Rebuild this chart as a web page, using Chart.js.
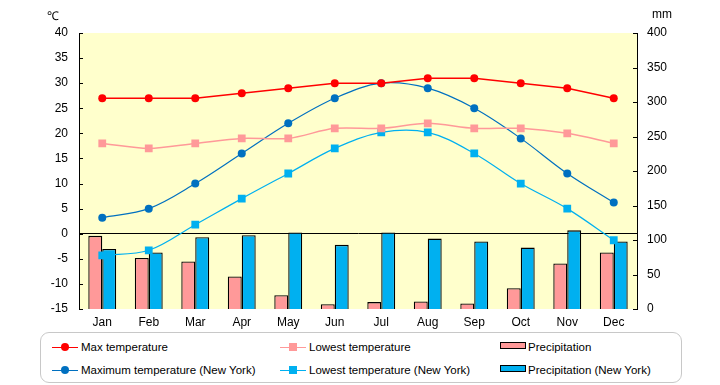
<!DOCTYPE html>
<html>
<head>
<meta charset="utf-8">
<script src="https://cdn.jsdelivr.net/npm/chart.js@4.4.1/dist/chart.umd.min.js"></script>
<style>
  html, body { margin: 0; padding: 0; background: #ffffff; }
  #wrap { position: relative; width: 720px; height: 385px; font-family: "Liberation Sans", Arial, sans-serif; }
  #c { position: absolute; left: 0; top: 0; }
  .unit { position: absolute; font-size: 12px; color: #000; }
  #legend { position: absolute; left: 40px; top: 332px; width: 640px; height: 49px;
            border: 1.5px solid #c8c8c8; border-radius: 9px; background: #fff; }
  .li { position: absolute; font-size: 11.5px; color: #000; white-space: nowrap; }
  .mk { position: absolute; }
</style>
</head>
<body>
<div id="wrap">
  <canvas id="c" width="720" height="385"></canvas>
  <div class="unit" style="left:47px; top:7px;">℃</div>
  <div class="unit" style="left:652px; top:7px;">mm</div>
  <div id="legend"></div>
</div>
<script>
// ---- data ----
const months = ["Jan","Feb","Mar","Apr","May","Jun","Jul","Aug","Sep","Oct","Nov","Dec"];
const maxTemp = [27, 27, 27, 28, 29, 30, 30, 31, 31, 30, 29, 27];
const lowTemp = [18, 17, 18, 19, 19, 21, 21, 22, 21, 21, 20, 18];
const nyMaxTemp = [3.2, 5, 10, 16, 22, 27, 30, 29, 25, 19, 12, 6.2];
const nyLowTemp = [-4.3, -3.3, 1.8, 7, 12, 17, 20.2, 20.2, 16, 10, 5, -1.3];
const precip = [106, 74, 69, 47, 20, 7, 10, 11, 8, 30, 66, 82];
const nyPrecip = [87, 82, 104, 107, 111, 93, 111, 102, 98, 89, 114, 98];
const seriesNames = ["Max temperature", "Lowest temperature", "Precipitation",
  "Maximum temperature (New York)", "Lowest temperature (New York)", "Precipitation (New York)"];

const RED = "#ff0000", PINK = "#ff9999", BLUE = "#0070c0", LBLUE = "#00b0f0";

const bgPlugin = {
  id: "bg",
  beforeDraw(chart) {
    const a = chart.chartArea, ctx = chart.ctx;
    ctx.save();
    ctx.fillStyle = "#ffffcc";
    ctx.fillRect(a.left, a.top, a.right - a.left, a.bottom - a.top);
    ctx.restore();
  },
  afterDraw(chart) {
    // inward tick marks on both value axes
    const ctx = chart.ctx;
    ctx.save();
    ctx.strokeStyle = "#000";
    ctx.lineWidth = 1;
    const y = chart.scales.y, y2 = chart.scales.y2;
    y.ticks.forEach(t => {
      const p = Math.round(y.getPixelForValue(t.value)) + 0.5;
      ctx.beginPath(); ctx.moveTo(y.right, p); ctx.lineTo(y.right + 4, p); ctx.stroke();
    });
    y2.ticks.forEach(t => {
      const p = Math.round(y2.getPixelForValue(t.value)) + 0.5;
      ctx.beginPath(); ctx.moveTo(y2.left - 4, p); ctx.lineTo(y2.left, p); ctx.stroke();
    });
    ctx.restore();
  }
};

const font = { family: "Liberation Sans, Arial, sans-serif", size: 12 };

new Chart(document.getElementById("c"), {
  type: "bar",
  data: {
    labels: months,
    datasets: [
      { type: "line", label: seriesNames[0], data: maxTemp, yAxisID: "y", order: 0,
        borderColor: RED, backgroundColor: RED, borderWidth: 1.5, tension: 0,
        pointStyle: "circle", pointRadius: 4, pointBorderWidth: 0 },
      { type: "line", label: seriesNames[1], data: lowTemp, yAxisID: "y", order: 0,
        borderColor: PINK, backgroundColor: PINK, borderWidth: 1.5, tension: 0.3,
        pointStyle: "rect", pointRadius: 5.5, pointBorderWidth: 0 },
      { type: "line", label: seriesNames[3], data: nyMaxTemp, yAxisID: "y", order: 0,
        borderColor: BLUE, backgroundColor: BLUE, borderWidth: 1.2, tension: 0.35,
        pointStyle: "circle", pointRadius: 4, pointBorderWidth: 0 },
      { type: "line", label: seriesNames[4], data: nyLowTemp, yAxisID: "y", order: 0,
        borderColor: LBLUE, backgroundColor: LBLUE, borderWidth: 1.2, tension: 0.35,
        pointStyle: "rect", pointRadius: 5.5, pointBorderWidth: 0 },
      { type: "bar", label: seriesNames[2], data: precip, yAxisID: "y2", order: 1,
        backgroundColor: PINK, borderColor: "#000", borderWidth: 1.3,
        barPercentage: 1, categoryPercentage: 0.6 },
      { type: "bar", label: seriesNames[5], data: nyPrecip, yAxisID: "y2", order: 1,
        backgroundColor: LBLUE, borderColor: "#000", borderWidth: 1.3,
        barPercentage: 1, categoryPercentage: 0.6 }
    ]
  },
  options: {
    responsive: false,
    animation: false,
    layout: { padding: { top: 33, bottom: 52, left: 0, right: 0 } },
    plugins: { legend: { display: false }, tooltip: { enabled: false } },
    scales: {
      x: {
        grid: { display: false, drawTicks: false },
        border: { display: false },
        ticks: { color: "#000", font: font, padding: 6, maxRotation: 0 },
        afterFit(s) { s.height = 24; }
      },
      y: {
        position: "left", min: -15, max: 40,
        ticks: { stepSize: 5, color: "#000", font: font, padding: 11 },
        grid: { drawTicks: false, lineWidth: 1,
                color: c => (c.tick && c.tick.value === 0) ? "#000" : "rgba(0,0,0,0)" },
        border: { display: true, color: "#000", width: 1 },
        afterFit(s) { s.width = 79; }
      },
      y2: {
        position: "right", min: 0, max: 400,
        ticks: { stepSize: 50, color: "#000", font: font, padding: 10 },
        grid: { display: false, drawTicks: false },
        border: { display: true, color: "#000", width: 1 },
        afterFit(s) { s.width = 83; }
      }
    }
  },
  plugins: [bgPlugin]
});

// ---- HTML legend ----
const legend = document.getElementById("legend");
const cols = [ { mk: 11, tx: 40 }, { mk: 239, tx: 268 }, { mk: 459, tx: 487 } ];
const rows = [14, 37];
const items = [
  { name: seriesNames[0], col: 0, row: 0, kind: "circle", color: RED },
  { name: seriesNames[1], col: 1, row: 0, kind: "square", color: PINK },
  { name: seriesNames[2], col: 2, row: 0, kind: "bar", color: PINK },
  { name: seriesNames[3], col: 0, row: 1, kind: "circle", color: BLUE },
  { name: seriesNames[4], col: 1, row: 1, kind: "square", color: LBLUE },
  { name: seriesNames[5], col: 2, row: 1, kind: "bar", color: LBLUE }
];
items.forEach(it => {
  const c = cols[it.col], cy = rows[it.row];
  if (it.kind === "bar") {
    const r = document.createElement("div");
    r.className = "mk";
    r.style.cssText = `left:${c.mk}px;top:${cy - 5}px;width:24px;height:5px;background:${it.color};border:1.5px solid #000;`;
    legend.appendChild(r);
  } else {
    const l = document.createElement("div");
    l.className = "mk";
    l.style.cssText = `left:${c.mk}px;top:${cy - 0.5}px;width:26px;height:1.5px;background:${it.color};`;
    legend.appendChild(l);
    const m = document.createElement("div");
    m.className = "mk";
    const s = 8;
    m.style.cssText = `left:${c.mk + 13 - s / 2}px;top:${cy - s / 2}px;width:${s}px;height:${s}px;background:${it.color};` +
      (it.kind === "circle" ? "border-radius:50%;" : "");
    legend.appendChild(m);
  }
  const t = document.createElement("div");
  t.className = "li";
  t.style.left = c.tx + "px";
  t.style.top = (cy - 6) + "px";
  t.textContent = it.name;
  legend.appendChild(t);
});
</script>
</body>
</html>
